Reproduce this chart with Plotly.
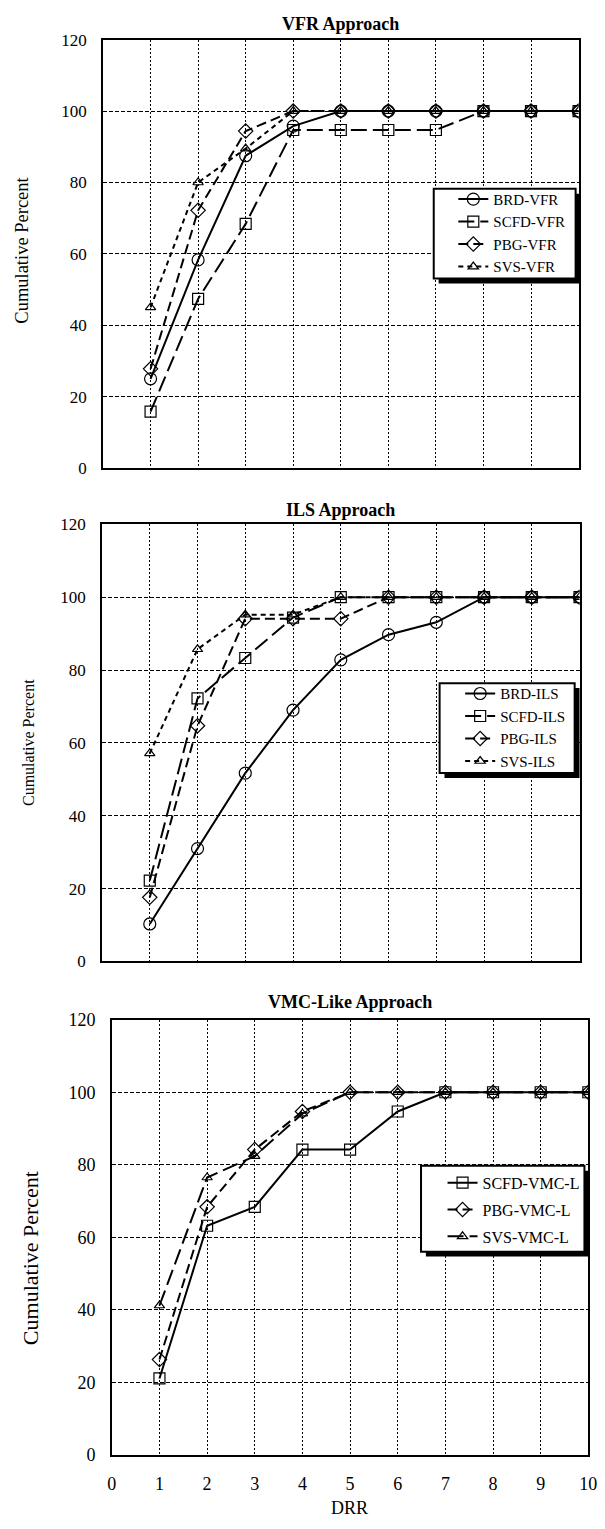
import plotly.graph_objects as go
from plotly.subplots import make_subplots

# ------------------------------------------------------------
# data (cumulative percent by DRR)
# ------------------------------------------------------------
drr = [1, 2, 3, 4, 5, 6, 7, 8, 9, 10]

vfr_brd = [25.0, 58.3, 87.5, 95.8, 100, 100, 100, 100, 100, 100]
vfr_scfd = [15.8, 47.4, 68.4, 94.7, 94.7, 94.7, 94.7, 100, 100, 100]
vfr_pbg = [27.8, 72.2, 94.4, 100, 100, 100, 100, 100, 100, 100]
vfr_svs = [45.0, 80.0, 89.5, 100, 100, 100, 100, 100, 100, 100]

ils_brd = [10.3, 31.0, 51.7, 69.0, 82.8, 89.7, 93.1, 100, 100, 100]
ils_scfd = [22.2, 72.2, 83.3, 94.4, 100, 100, 100, 100, 100, 100]
ils_pbg = [17.6, 64.7, 94.1, 94.1, 94.1, 100, 100, 100, 100, 100]
ils_svs = [57.1, 85.7, 95.2, 95.2, 100, 100, 100, 100, 100, 100]

vmc_scfd = [21.1, 63.2, 68.4, 84.2, 84.2, 94.7, 100, 100, 100, 100]
vmc_pbg = [26.3, 68.4, 84.2, 94.7, 100, 100, 100, 100, 100, 100]
vmc_svs = [41.2, 76.5, 82.4, 94.1, 100, 100, 100, 100, 100, 100]

panel_titles = ["VFR Approach", "ILS Approach", "VMC-Like Approach"]
y_ticks = [0, 20, 40, 60, 80, 100, 120]
x_ticks = [0, 1, 2, 3, 4, 5, 6, 7, 8, 9, 10]

# ------------------------------------------------------------
# page geometry (pixels) -> paper fractions
# the page body has an 8px margin, so page pixels are shifted by OFF
# ------------------------------------------------------------
W, H = 605, 1529
OFF = 8
FONT = "Liberation Serif"


def px_x(v):
    return (v - OFF) / W


def px_y(v):
    return 1 - (v - OFF) / H


# (left, right, top, bottom) of each plot area in page pixels
boxes = [(101, 587, 30, 464), (100, 588, 521, 964), (110, 597, 1023, 1464)]

fig = make_subplots(rows=3, cols=1)

styles = {
    "solid": dict(width=2, dash="solid"),
    "long": dict(width=2, dash="16px,6px"),
    "mid": dict(width=2, dash="10px,5px"),
    "short": dict(width=2, dash="5px,4px"),
}


def add_series(row, name, y, line, symbol, size, legend):
    fig.add_trace(
        go.Scatter(
            x=drr, y=y, name=name, mode="lines+markers",
            line=dict(color="black", **styles[line]),
            marker=dict(symbol=symbol, size=size, color="black",
                        line=dict(width=1.2, color="black")),
            legend=legend, legendgroup=name,
        ),
        row=row, col=1,
    )


add_series(1, "BRD-VFR", vfr_brd, "solid", "circle-open", 12, "legend")
add_series(1, "SCFD-VFR", vfr_scfd, "long", "square-open", 11, "legend")
add_series(1, "PBG-VFR", vfr_pbg, "mid", "diamond-open", 11, "legend")
add_series(1, "SVS-VFR", vfr_svs, "short", "triangle-up-open", 9, "legend")

add_series(2, "BRD-ILS", ils_brd, "solid", "circle-open", 12, "legend2")
add_series(2, "SCFD-ILS", ils_scfd, "long", "square-open", 11, "legend2")
add_series(2, "PBG-ILS", ils_pbg, "mid", "diamond-open", 11, "legend2")
add_series(2, "SVS-ILS", ils_svs, "short", "triangle-up-open", 9, "legend2")

add_series(3, "SCFD-VMC-L", vmc_scfd, "solid", "square-open", 11, "legend3")
add_series(3, "PBG-VMC-L", vmc_pbg, "mid", "diamond-open", 11, "legend3")
add_series(3, "SVS-VMC-L", vmc_svs, "long", "triangle-up-open", 9, "legend3")

# axes
for i, (l, r, t, b) in enumerate(boxes):
    row = i + 1
    last = row == 3
    tick_size = 18 if last else 17
    fig.update_xaxes(
        domain=[px_x(l), px_x(r)], range=[0, 10], tickvals=x_ticks,
        showticklabels=last, ticks="", ticklabelstandoff=12,
        tickfont=dict(family=FONT, size=18, color="black"),
        showgrid=True, gridcolor="black", gridwidth=1, griddash="2px,2px",
        showline=True, linecolor="black", linewidth=1.5, mirror=True,
        zeroline=False, row=row, col=1,
    )
    fig.update_yaxes(
        domain=[px_y(b), px_y(t)], range=[0, 120], tickvals=y_ticks,
        ticks="", ticklabelstandoff=11,
        tickfont=dict(family=FONT, size=tick_size, color="black"),
        showgrid=True, gridcolor="black", gridwidth=1, griddash="4px,2px",
        showline=True, linecolor="black", linewidth=1.5, mirror=True,
        zeroline=False, row=row, col=1,
    )

# titles and axis labels
title_y = [14, 507, 1005]
ylabel = [(18, 243, 18.5), (25, 742, 16), (27, 1265, 22)]
annotations = []
for i, (l, r, t, b) in enumerate(boxes):
    annotations.append(dict(
        text="<b>" + panel_titles[i] + "</b>", x=px_x((l + r) / 2), y=px_y(title_y[i]),
        xref="paper", yref="paper", showarrow=False, xanchor="center", yanchor="middle",
        font=dict(family=FONT, size=18, color="black"),
    ))
    annotations.append(dict(
        text="Cumulative Percent", x=px_x(ylabel[i][0]), y=px_y(ylabel[i][1]),
        xref="paper", yref="paper", showarrow=False, textangle=-90,
        xanchor="center", yanchor="middle",
        font=dict(family=FONT, size=ylabel[i][2], color="black"),
    ))
annotations.append(dict(
    text="DRR", x=px_x(353), y=px_y(1518), xref="paper", yref="paper",
    showarrow=False, xanchor="center", yanchor="middle",
    font=dict(family=FONT, size=18, color="black"),
))

# legend boxes with drop shadow (page pixels: left, top, right, bottom)
leg_boxes = [(439, 181, 584, 272), (445, 682, 583, 773), (426, 1171, 593, 1258)]
shapes = []
for (l, t, r, b) in leg_boxes:
    shapes.append(dict(type="rect", xref="paper", yref="paper", layer="above",
                       x0=px_x(l + 5), x1=px_x(r + 5), y0=px_y(b + 5), y1=px_y(t + 5),
                       fillcolor="black", line=dict(width=0)))
    shapes.append(dict(type="rect", xref="paper", yref="paper", layer="above",
                       x0=px_x(l), x1=px_x(r), y0=px_y(b), y1=px_y(t),
                       fillcolor="white", line=dict(color="black", width=2)))


def legend_at(left, top, size, gap):
    return dict(
        x=px_x(left), y=px_y(top), xanchor="left", yanchor="top",
        xref="paper", yref="paper", bgcolor="rgba(0,0,0,0)", borderwidth=0,
        font=dict(family=FONT, size=size, color="black"), tracegroupgap=gap,
    )


fig.update_layout(
    width=W, height=H,
    margin=dict(l=0, r=0, t=0, b=0),
    plot_bgcolor="white", paper_bgcolor="white",
    showlegend=True,
    legend=legend_at(459, 175, 15, 0),
    legend2=legend_at(466, 676, 15, 0),
    legend3=legend_at(448, 1171, 16, 3),
    annotations=annotations,
    shapes=shapes,
)

fig.write_html("out.html")
